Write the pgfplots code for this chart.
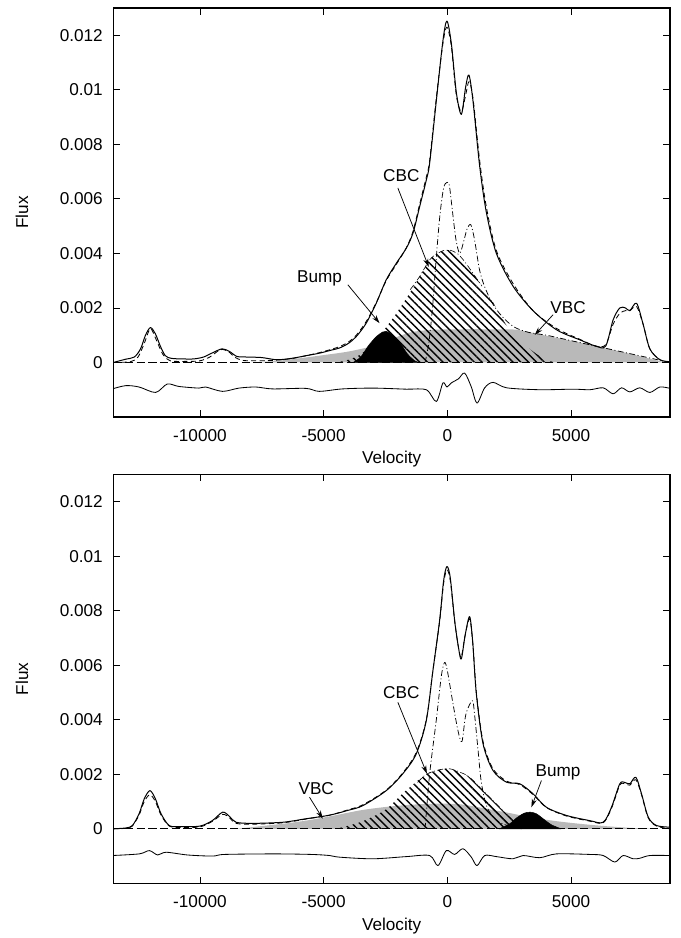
\documentclass[border=0pt]{standalone}
\usepackage{fontspec}
\setmainfont{Liberation Sans}
\usepackage{pgfplots}
\pgfplotsset{compat=1.18}
\usetikzlibrary{patterns.meta,arrows.meta}
\definecolor{vbcgray}{RGB}{185,185,185}
\pgfplotsset{panel/.style={
  width=334pt,height=245.4pt,scale only axis,
  xmin=-13500,xmax=9000,ymin=-0.002,ymax=0.013,
  xtick={-10000,-5000,0,5000},xticklabels={-10000,-5000,0,5000},
  ytick={0,0.002,0.004,0.006,0.008,0.01,0.012},
  yticklabels={0,0.002,0.004,0.006,0.008,0.01,0.012},
  scaled y ticks=false,scaled x ticks=false,
  tick align=inside,tick pos=both,major tick length=4pt,
  tick style={black,line width=0.5pt},
  axis line style={line width=0.7pt},
  xlabel={Velocity},ylabel={Flux},
  xlabel style={at={(axis description cs:0.5,-0.104)},anchor=center},
  ylabel style={at={(axis description cs:-0.164,0.5)},anchor=center,rotate=0},
  xticklabel style={yshift=-3.8pt},
  yticklabel style={xshift=-2.8pt},
  every axis plot/.append style={line join=round},
  clip=true}}
\tikzset{hatch/.style={pattern={Lines[angle=-45,distance=3.3pt,line width=0.85pt]},draw=none},
  tot/.style={black,line width=0.6pt,smooth},
  mod/.style={black,line width=0.5pt,smooth,dash pattern=on 3pt off 2pt},
  nar/.style={black,line width=0.45pt,smooth,dash pattern=on 3.5pt off 1.5pt on 0.6pt off 1.5pt},
  res/.style={black,line width=0.5pt,smooth},
  arr/.style={-{Stealth[length=5pt,width=3pt]},line width=0.45pt}}
\begin{document}
\begin{tikzpicture}[font=\fontsize{10.3}{12}\selectfont]
\path[use as bounding box] (0,0) rectangle (408.6pt,562.8pt);
% ---------------- TOP PANEL ----------------
\begin{axis}[panel,at={(68pt,312.6pt)},anchor=south west]
% VBC
\addplot[fill=vbcgray,draw=none,smooth] coordinates {(-8000,0)(-7000,0.00005)(-6000,0.00015)(-5000,0.00027)(-4000,0.0004)(-3000,0.0006)(-2500,0.00075)(-2000,0.00095)(-1400,0.00112)(-500,0.0012)(1000,0.00122)(2000,0.00121)(2800,0.0012)(4000,0.00098)(5000,0.0008)(6000,0.0006)(7000,0.0004)(8000,0.00018)(8800,0)} \closedcycle;
% CBC
\addplot[hatch,smooth] coordinates {(-4500,0)(-4000,0.0001)(-3500,0.0003)(-3000,0.0007)(-2600,0.00114)(-2060,0.0018)(-1525,0.00254)(-1120,0.00315)(-716,0.00376)(-400,0.004)(-100,0.00412)(100,0.00412)(400,0.004)(700,0.0037)(1036,0.00327)(1400,0.0028)(1711,0.00242)(2100,0.0018)(2520,0.0012)(3200,0.0006)(3700,0.00025)(4140,0.00005)(4500,0)} \closedcycle;
\addplot[nar,line width=0.35pt] coordinates {(-1500,0.00267)(-1120,0.00315)(-716,0.00376)(-400,0.004)(-100,0.00412)(100,0.00412)(400,0.004)(700,0.0037)(1036,0.00327)(1400,0.0028)};
% Bump
\addplot[fill=black,draw=black,line width=0.3pt,smooth] coordinates {(-3810,0)(-3500,0.0002)(-3200,0.0006)(-2870,0.00095)(-2600,0.00112)(-2470,0.00114)(-2200,0.001)(-1900,0.0007)(-1600,0.0003)(-1300,0.00005)(-1120,0)} \closedcycle;
% baseline
\addplot[black,line width=0.5pt,dash pattern=on 5pt off 2pt] coordinates {(-13500,0)(9000,0)};
% narrow component
\addplot[nar] coordinates {(-900,0)(-750,0.0007)(-600,0.002)(-450,0.0038)(-300,0.0054)(-150,0.0064)(-20,0.0066)(80,0.0065)(200,0.0056)(350,0.0045)(500,0.004)(650,0.0044)(800,0.0049)(950,0.00505)(1100,0.0045)(1300,0.0034)(1500,0.0028)(1800,0.0022)(2200,0.0017)(2700,0.0013)(3300,0.0011)(4000,0.001)(5000,0.0008)(6000,0.0006)(7000,0.0004)(8000,0.0002)(9000,0)};
% model
\addplot[mod] coordinates {(-13500,0)(-12800,0.00003)(-12500,0.0002)(-12250,0.0007)(-12000,0.00124)(-11750,0.0008)(-11500,0.0003)(-11200,0.00006)(-10500,0.00004)(-10000,0.00006)(-9600,0.0002)(-9300,0.0004)(-9100,0.00048)(-8850,0.0004)(-8600,0.0002)(-8300,0.00008)(-7800,0.00006)(-7000,0.00008)(-6300,0.00014)(-5700,0.00025)(-5170,0.00036)(-4700,0.00048)(-4360,0.00058)(-4000,0.00075)(-3680,0.001)(-3280,0.0015)(-2870,0.0022)(-2470,0.003)(-2060,0.0036)(-1660,0.0042)(-1390,0.0048)(-1120,0.0058)(-850,0.0068)(-716,0.0074)(-445,0.0097)(-178,0.0117)(-16,0.0123)(162,0.0116)(364,0.0098)(566,0.0092)(740,0.0098)(874,0.0103)(1036,0.0097)(1307,0.0074)(1578,0.0057)(1983,0.0041)(2654,0.0029)(3463,0.0019)(4410,0.00125)(5353,0.00085)(6000,0.0006)(6400,0.00065)(6700,0.0014)(6970,0.0018)(7200,0.0019)(7376,0.0019)(7650,0.00205)(7914,0.0014)(8185,0.0005)(8590,0.0001)(9000,0)};
% observed
\addplot[tot] coordinates {(-13500,0)(-13000,0.00012)(-12650,0.0002)(-12400,0.0005)(-12200,0.001)(-12000,0.00128)(-11800,0.00105)(-11600,0.0006)(-11400,0.00025)(-11150,0.00015)(-10700,0.00013)(-10250,0.00013)(-9850,0.0002)(-9500,0.00035)(-9100,0.0005)(-8800,0.0004)(-8500,0.00022)(-8100,0.0002)(-7500,0.00018)(-6900,0.0001)(-6300,0.00015)(-5700,0.00025)(-5170,0.00034)(-4700,0.00045)(-4360,0.00053)(-4000,0.0007)(-3680,0.00095)(-3280,0.00144)(-2870,0.00218)(-2470,0.00303)(-2060,0.00364)(-1660,0.00419)(-1390,0.00474)(-1120,0.00571)(-850,0.00669)(-716,0.0073)(-445,0.0096)(-178,0.0118)(-16,0.01252)(162,0.0117)(364,0.0099)(566,0.0091)(740,0.0101)(874,0.01054)(1036,0.0096)(1307,0.0072)(1578,0.0055)(1983,0.004)(2654,0.0028)(3463,0.0019)(4410,0.0012)(5353,0.00083)(6000,0.0006)(6400,0.0006)(6700,0.00156)(6970,0.002)(7200,0.002)(7376,0.0019)(7650,0.00217)(7914,0.0014)(8185,0.0005)(8590,0.0001)(9000,0.00003)};
% residual
\addplot[res] coordinates {(-13540,-0.00097)(-13000,-0.00085)(-12460,-0.0009)(-11790,-0.0011)(-11320,-0.00079)(-10850,-0.00088)(-10040,-0.00094)(-9770,-0.0009)(-9090,-0.00106)(-8420,-0.00094)(-7740,-0.0009)(-7070,-0.00097)(-5720,-0.00095)(-5180,-0.00106)(-4240,-0.00097)(-3000,-0.00094)(-1660,-0.00098)(-850,-0.001)(-445,-0.00143)(-178,-0.00075)(-16,-0.0009)(162,-0.00075)(450,-0.0006)(700,-0.00039)(970,-0.0009)(1200,-0.00149)(1510,-0.00093)(1850,-0.00073)(2400,-0.00093)(3735,-0.001)(5080,-0.00098)(5760,-0.001)(6300,-0.00093)(6700,-0.00115)(7040,-0.00093)(7376,-0.00108)(7780,-0.00093)(8185,-0.0011)(8590,-0.0009)(9000,-0.00095)};
% labels
\node at (axis cs:-1861,0.00687) {CBC};
\draw[arr] (axis cs:-2000,0.0064) -- (axis cs:-750,0.0035);
\node at (axis cs:-5167,0.00309) {Bump};
\draw[arr] (axis cs:-4022,0.00285) -- (axis cs:-2739,0.00144);
\node at (axis cs:4880,0.002) {VBC};
\draw[arr] (axis cs:4273,0.00175) -- (axis cs:3532,0.00101);
\end{axis}
% ---------------- BOTTOM PANEL ----------------
\begin{axis}[panel,at={(68pt,32.8pt)},anchor=south west]
\addplot[fill=vbcgray,draw=none,smooth] coordinates {(-8500,0)(-7500,0.0001)(-6500,0.0002)(-5500,0.00033)(-4500,0.0005)(-3500,0.00068)(-2500,0.0008)(-1500,0.00088)(-500,0.00092)(500,0.0009)(1500,0.00075)(2500,0.00058)(3500,0.0004)(4500,0.00027)(5500,0.00017)(6500,0.00009)(7500,0.00003)(8500,0)} \closedcycle;
\addplot[hatch,smooth] coordinates {(-4500,0)(-3500,0.00025)(-2500,0.0007)(-1700,0.00138)(-850,0.002)(-300,0.00217)(100,0.0022)(500,0.00208)(900,0.00189)(1576,0.00128)(2250,0.00067)(2800,0.00024)(3300,0.00003)(3600,0)} \closedcycle;
\addplot[nar,line width=0.35pt] coordinates {(-1200,0.0017)(-850,0.002)(-300,0.00217)(100,0.0022)(500,0.00208)(900,0.00189)(1576,0.00128)(2250,0.00067)};
\addplot[fill=black,draw=black,line width=0.3pt,smooth] coordinates {(2100,0)(2500,0.00017)(2800,0.0004)(3100,0.00057)(3350,0.00061)(3600,0.00055)(3900,0.00035)(4200,0.00015)(4600,0)} \closedcycle;
\addplot[black,line width=0.5pt,dash pattern=on 5pt off 2pt] coordinates {(-13500,0)(9000,0)};
\addplot[nar] coordinates {(-900,0)(-716,0.002)(-445,0.004)(-243,0.0056)(-110,0.0061)(0,0.0058)(227,0.0046)(430,0.0036)(590,0.0032)(750,0.0042)(1010,0.0047)(1100,0.0042)(1240,0.0029)(1375,0.0017)(1600,0.0008)(2000,0.0003)(2500,0.0001)(3000,0)};
\addplot[mod] coordinates {(-13500,0)(-12900,0.00002)(-12730,0.0001)(-12460,0.0005)(-12250,0.001)(-12020,0.00125)(-11800,0.001)(-11570,0.0005)(-11240,0.0001)(-10800,0.00005)(-10000,0.00007)(-9500,0.00027)(-9080,0.00053)(-8800,0.0004)(-8540,0.0002)(-7870,0.00017)(-6650,0.00022)(-5700,0.00036)(-4760,0.0005)(-4000,0.0007)(-3415,0.00088)(-2470,0.00142)(-1800,0.00205)(-1255,0.0028)(-850,0.004)(-583,0.0058)(-312,0.0076)(-150,0.009)(-16,0.0095)(120,0.0091)(300,0.0076)(460,0.0066)(566,0.0063)(720,0.0071)(902,0.0077)(1030,0.0068)(1173,0.0050)(1443,0.0032)(1845,0.0022)(2390,0.00175)(2930,0.00162)(3470,0.00125)(4005,0.00078)(4815,0.00047)(5760,0.00028)(6300,0.00022)(6635,0.00075)(6970,0.0016)(7175,0.00165)(7376,0.0016)(7620,0.0018)(7850,0.00125)(8120,0.0004)(8456,0.0001)(9000,0)};
\addplot[tot] coordinates {(-13500,0)(-13000,0.00003)(-12730,0.00012)(-12460,0.00055)(-12250,0.0011)(-12020,0.0014)(-11800,0.0011)(-11570,0.00055)(-11240,0.00012)(-10800,0.00008)(-10000,0.0001)(-9500,0.0003)(-9080,0.00061)(-8800,0.00045)(-8540,0.00024)(-7870,0.0002)(-6650,0.00024)(-5700,0.00037)(-4760,0.0005)(-4000,0.00068)(-3415,0.00085)(-2470,0.0014)(-1800,0.00202)(-1255,0.00275)(-850,0.00397)(-583,0.0058)(-312,0.00764)(-150,0.0091)(-16,0.00962)(120,0.0092)(300,0.0076)(460,0.0066)(566,0.00623)(720,0.0071)(902,0.00778)(1030,0.0068)(1173,0.00495)(1443,0.00312)(1845,0.00214)(2390,0.00171)(2930,0.00165)(3470,0.00128)(4005,0.00079)(4815,0.00049)(5760,0.0003)(6300,0.00024)(6635,0.00079)(6970,0.00165)(7175,0.0017)(7376,0.00165)(7620,0.00189)(7850,0.00128)(8120,0.00043)(8456,0.00012)(9000,0.00006)};
\addplot[res] coordinates {(-13540,-0.00098)(-12450,-0.00092)(-12045,-0.0008)(-11708,-0.00096)(-11370,-0.00086)(-10500,-0.00096)(-9485,-0.001)(-9000,-0.00094)(-7000,-0.00092)(-5500,-0.00094)(-4760,-0.00098)(-4360,-0.00104)(-3010,-0.0011)(-1660,-0.00102)(-716,-0.00098)(-380,-0.00135)(-40,-0.0008)(295,-0.00094)(632,-0.00073)(970,-0.00104)(1200,-0.00135)(1510,-0.00098)(1983,-0.00102)(2654,-0.0011)(3059,-0.00098)(3735,-0.00106)(4410,-0.00092)(5760,-0.00094)(6300,-0.00098)(6770,-0.00122)(7105,-0.00098)(7510,-0.0011)(7780,-0.00108)(8185,-0.00098)(9000,-0.00098)};
\node at (axis cs:-1861,0.005) {CBC};
\draw[arr] (axis cs:-2000,0.00464) -- (axis cs:-825,0.00202);
\node at (axis cs:4475,0.00207) {Bump};
\draw[arr] (axis cs:3803,0.00177) -- (axis cs:3398,0.00079);
\node at (axis cs:-5300,0.00147) {VBC};
\draw[arr] (axis cs:-5571,0.00116) -- (axis cs:-5033,0.00037);
\end{axis}
\end{tikzpicture}
\end{document}
